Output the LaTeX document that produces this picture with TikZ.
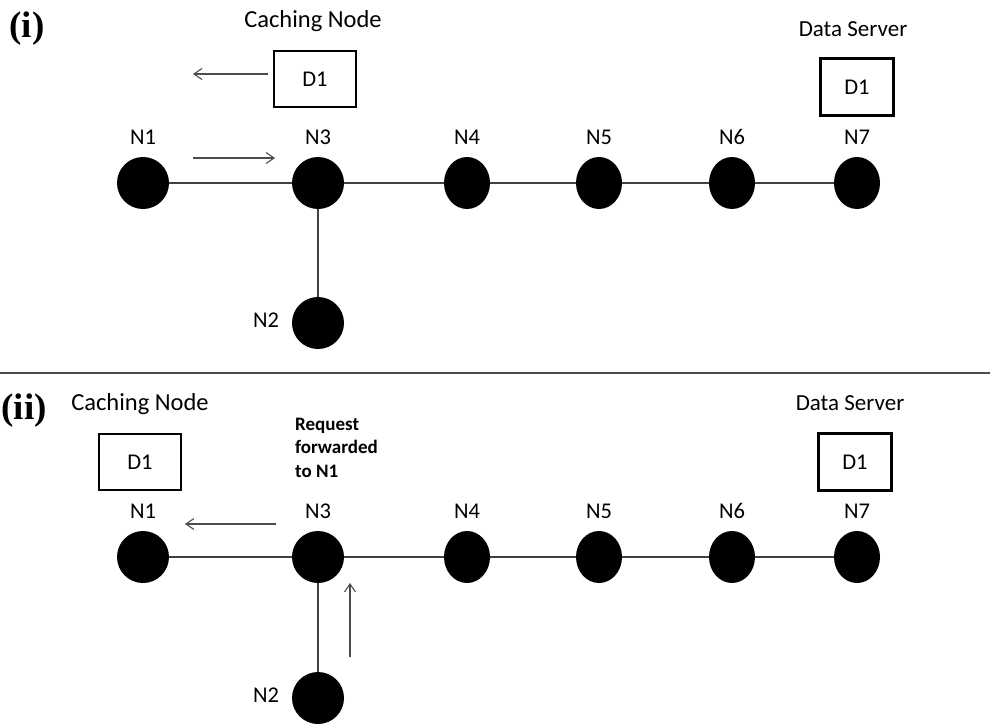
\documentclass[tikz,border=0pt]{standalone}
\usepackage{fontspec}
\setmainfont{Carlito}
\newfontfamily\partfont{Liberation Serif}
\usetikzlibrary{arrows.meta,shapes.geometric}
\begin{document}
\begin{tikzpicture}[x=1pt,y=-1pt,
  hostc/.style={circle,fill=black,minimum size=52pt,inner sep=0pt},
  hoste/.style={ellipse,fill=black,minimum width=46pt,minimum height=52pt,inner sep=0pt},
  lbl/.style={anchor=base,inner sep=0pt,font=\fontsize{22.5}{26}\selectfont},
  role/.style={anchor=base,inner sep=0pt,font=\fontsize{24.5}{28}\selectfont},
  cachebox/.style={draw,line width=2.5pt,minimum width=82pt,minimum height=56pt,inner sep=0pt,font=\fontsize{22.5}{26}\selectfont},
  serverbox/.style={draw,line width=2.5pt,minimum width=73pt,minimum height=57pt,inner sep=0pt,font=\fontsize{22.5}{26}\selectfont},
  link/.style={line width=1.3pt,black!75},
  msg/.style={line width=1.1pt,black!70,-{Straight Barb[length=8pt,width=11pt]}},
  part/.style={inner sep=0pt,font=\partfont\bfseries\fontsize{37}{40}\selectfont}
]
\useasboundingbox (0,0) rectangle (990,725);

% ---------- (i) ----------
\node[part] (pi) at (27,29) {(i)};
\node[role] (cni) at (313,28) {Caching Node};
\node[role,font=\fontsize{23}{28}\selectfont] (dsi) at (853,37) {Data Server};
\node[cachebox] (d1ci) at (315,79) {D1};
\node[serverbox] (d1si) at (857,87) {D1};

\node[hostc] (n1i) at (143,183) {};
\node[hostc] (n3i) at (318,183) {};
\node[hoste] (n4i) at (467,183) {};
\node[hoste] (n5i) at (599,183) {};
\node[hoste] (n6i) at (732,183) {};
\node[hoste] (n7i) at (857,183) {};
\node[hostc] (n2i) at (318,323) {};

\node[lbl] (ln1i) at (143,144) {N1};
\node[lbl] (ln3i) at (318,144) {N3};
\node[lbl] (ln4i) at (467,144) {N4};
\node[lbl] (ln5i) at (599,144) {N5};
\node[lbl] (ln6i) at (732,144) {N6};
\node[lbl] (ln7i) at (857,144) {N7};
\node[lbl] (ln2i) at (266,327) {N2};

\draw[link] (n1i) -- (n3i);
\draw[link] (n3i) -- (n4i);
\draw[link] (n4i) -- (n5i);
\draw[link] (n5i) -- (n6i);
\draw[link] (n6i) -- (n7i);
\draw[link] (n3i) -- (n2i);

\coordinate (replyS) at (268,74);
\coordinate (replyE) at (193,74);
\coordinate (reqS) at (193,158);
\coordinate (reqE) at (275,158);
\draw[msg] (replyS) -- (replyE);
\draw[msg] (reqS) -- (reqE);

% ---------- divider ----------
\coordinate (divL) at (0,373);
\coordinate (divR) at (990,373);
\draw[line width=1.4pt,black!70] (divL) -- (divR);

% ---------- (ii) ----------
\node[part] (pii) at (24,411) {(ii)};
\node[role] (cnii) at (140,410) {Caching Node};
\node[role,font=\fontsize{23}{28}\selectfont] (dsii) at (850,410) {Data Server};
\node[cachebox] (d1cii) at (140,462) {D1};
\node[serverbox] (d1sii) at (855,462) {D1};
\node[anchor=base west,inner sep=0pt,align=left,
      font=\bfseries\fontsize{19}{23.5}\selectfont] (fwd) at (295,477)
  {Request\\forwarded\\to N1};

\node[hostc] (n1ii) at (143,557) {};
\node[hostc] (n3ii) at (318,557) {};
\node[hoste] (n4ii) at (467,557) {};
\node[hoste] (n5ii) at (599,557) {};
\node[hoste] (n6ii) at (732,557) {};
\node[hoste] (n7ii) at (857,557) {};
\node[hostc] (n2ii) at (318,698) {};

\node[lbl] (ln1ii) at (143,518) {N1};
\node[lbl] (ln3ii) at (318,518) {N3};
\node[lbl] (ln4ii) at (467,518) {N4};
\node[lbl] (ln5ii) at (599,518) {N5};
\node[lbl] (ln6ii) at (732,518) {N6};
\node[lbl] (ln7ii) at (857,518) {N7};
\node[lbl] (ln2ii) at (266,702) {N2};

\draw[link] (n1ii) -- (n3ii);
\draw[link] (n3ii) -- (n4ii);
\draw[link] (n4ii) -- (n5ii);
\draw[link] (n5ii) -- (n6ii);
\draw[link] (n6ii) -- (n7ii);
\draw[link] (n3ii) -- (n2ii);

\coordinate (fwdS) at (276,524);
\coordinate (fwdE) at (185,524);
\coordinate (upS) at (350,657);
\coordinate (upE) at (350,583);
\draw[msg] (fwdS) -- (fwdE);
\draw[msg] (upS) -- (upE);
\end{tikzpicture}
\end{document}
